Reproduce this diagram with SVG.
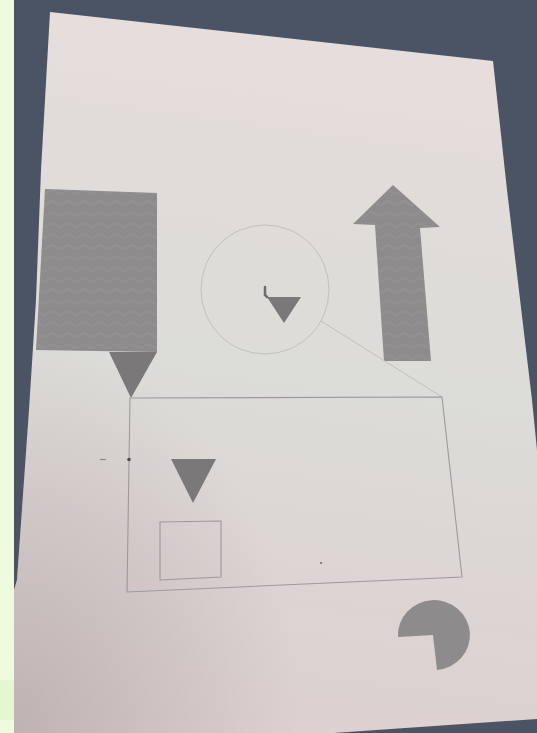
<svg xmlns="http://www.w3.org/2000/svg" width="537" height="733" viewBox="0 0 537 733">
  <defs>
    <linearGradient id="paperGrad" x1="0.5" y1="0" x2="0.4" y2="1">
      <stop offset="0" stop-color="#e8dedb"/>
      <stop offset="0.25" stop-color="#e0dcd9"/>
      <stop offset="0.5" stop-color="#dcdcd8"/>
      <stop offset="0.8" stop-color="#dcd4d3"/>
      <stop offset="1" stop-color="#ddd0d0"/>
    </linearGradient>
    <radialGradient id="paperShade" cx="0" cy="1" r="0.55">
      <stop offset="0" stop-color="#a89a9b" stop-opacity="0.55"/>
      <stop offset="1" stop-color="#a89a9b" stop-opacity="0"/>
    </radialGradient>
    <pattern id="wave" width="16" height="11" patternUnits="userSpaceOnUse">
      <path d="M0,5 Q4,1 8,5 T16,5" fill="none" stroke="#a4a2a2" stroke-width="2.2" stroke-opacity="0.22"/>
    </pattern>
    <style>
      .solid { fill: #8d8b8b; }
      .dark { fill: #7a7878; }
      .outline { fill: none; stroke: #9c9a9a; stroke-width: 1.1; }
      .faint { fill: none; stroke: #c2c0be; stroke-width: 1; }
      .tex { fill: url(#wave); }
    </style>
  </defs>

  <!-- backdrop -->
  <rect x="0" y="0" width="537" height="733" fill="#4b5464"/>
  <rect x="0" y="0" width="14" height="733" fill="#eefbdc"/>
  <rect x="0" y="680" width="14" height="40" fill="#e6f5d2"/>

  <!-- paper -->
  <g id="paper">
    <path d="M50,12 L493,61 L507,190 L532,400 L537,450 L537,719 L333,733 L14,733 L14,590 L17,580 L29,410 L36,300 L41,170 Z" fill="url(#paperGrad)"/>
    <path d="M50,12 L493,61 L507,190 L532,400 L537,450 L537,719 L333,733 L14,733 L14,590 L17,580 L29,410 L36,300 L41,170 Z" fill="url(#paperShade)"/>
  </g>

  <!-- left block with pointer -->
  <g id="block">
    <path class="solid" d="M45,189 L157,193 L157,352 L36,350 Z"/>
    <path class="tex" d="M45,189 L157,193 L157,352 L36,350 Z"/>
    <path class="dark" d="M109,352 L157,352 L131,398 Z"/>
  </g>

  <!-- circle with small triangle -->
  <g id="lens">
    <ellipse class="faint" cx="265" cy="289.5" rx="64" ry="64.5"/>
    <path class="dark" d="M267,297 L301,297 L284,323 Z"/>
    <path d="M265,287 L265,295 L267,297" fill="none" stroke="#6e6c6c" stroke-width="2.5" stroke-linecap="round"/>
  </g>

  <!-- up arrow -->
  <g id="arrow">
    <path class="solid" d="M393,185 L440,227 L420,228 L431,361 L384,361 L375,225 L353,224 Z"/>
    <path class="tex" d="M393,185 L440,227 L420,228 L431,361 L384,361 L375,225 L353,224 Z"/>
  </g>

  <!-- connectors -->
  <g id="connectors">
    <path class="faint" d="M321,321 L442,397"/>
  </g>

  <!-- large frame -->
  <g id="frame">
    <path class="outline" d="M130,398 L442,397 L462,577 L127,592 Z"/>
    <path d="M100,459.5 L106,459.5" stroke="#8a8888" stroke-width="1.2"/>
    <circle cx="129" cy="459.5" r="1.8" fill="#4e4c4c"/>
    <circle cx="321" cy="563" r="1" fill="#6a6868"/>
  </g>

  <g id="triangle">
    <path class="dark" d="M171,459 L216,459 L193,503 Z"/>
  </g>

  <g id="square">
    <path class="outline" d="M160,522 L221,521 L221,577 L160,580 Z"/>
  </g>

  <!-- pie -->
  <g id="pie">
    <path class="solid" d="M433,635 L398,637 A36,35 0 1 1 437,670 Z"/>
  </g>
</svg>
